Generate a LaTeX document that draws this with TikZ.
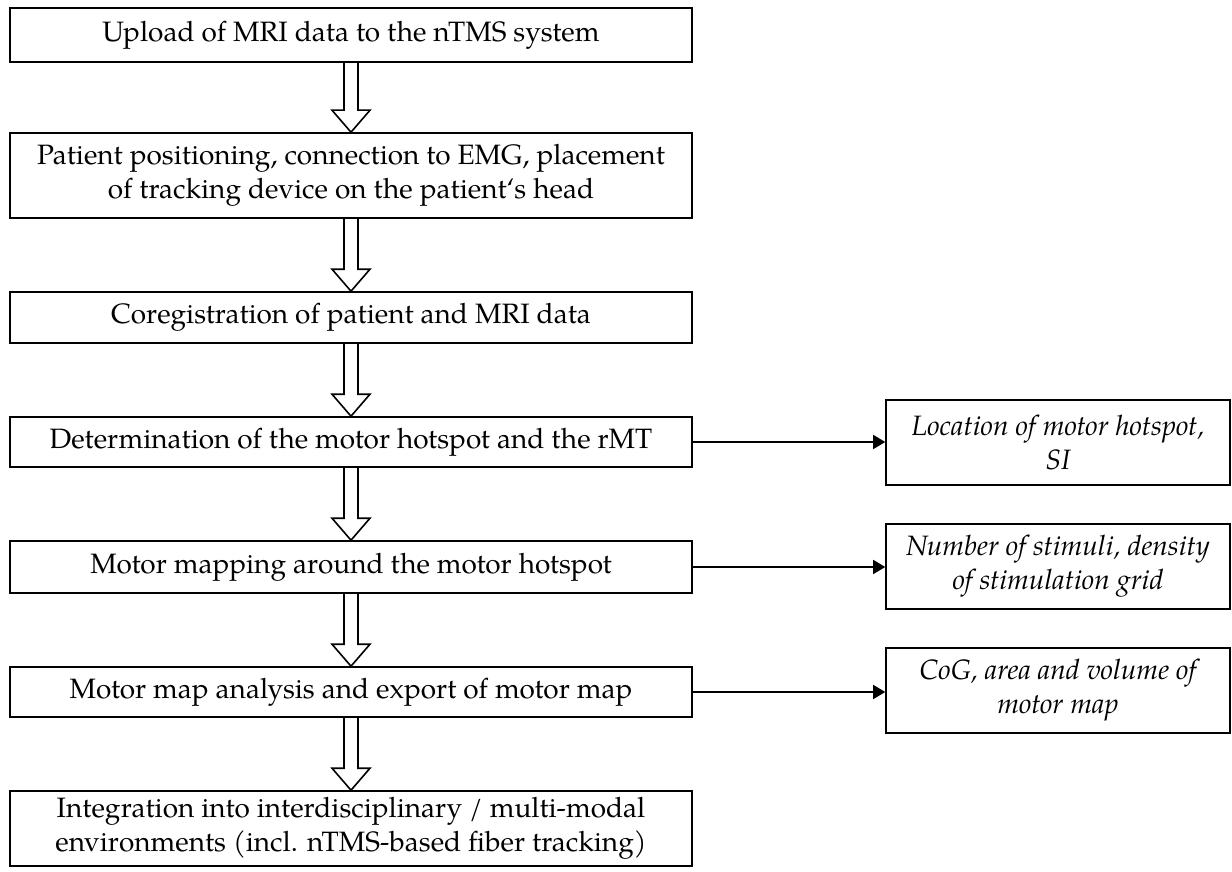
\documentclass[tikz,border=0pt]{standalone}
\usepackage{fontspec}
\setmainfont{texgyrepagella}[Extension=.otf, UprightFont=*-regular, ItalicFont=*-italic, BoldFont=*-bold, BoldItalicFont=*-bolditalic]
\usetikzlibrary{arrows.meta,calc}
\newcommand\hollowarrow[2]{%
  \draw[hollow] ($(#1.south)+(-7,0)$) -- ($(#2.north)+(-7,-22)$) -- ($(#2.north)+(-19,-22)$)
    -- (#2.north) -- ($(#2.north)+(19,-22)$) -- ($(#2.north)+(7,-22)$) -- ($(#1.south)+(7,0)$);}
\begin{document}
\begin{tikzpicture}[x=0.5pt,y=-0.5pt,
  box/.style={draw, line width=0.8pt, inner sep=0pt, align=center,
    font=\fontsize{14}{17}\selectfont, minimum width=341pt},
  rbox/.style={draw, line width=0.8pt, inner sep=0pt, align=center,
    font=\fontsize{14}{17}\selectfont\itshape, minimum width=172pt, minimum height=42.5pt},
  hollow/.style={line width=0.8pt, line join=miter},
  link/.style={line width=0.8pt, -{Triangle[length=6pt,width=7pt]}}]
\fill[white] (0,0) rectangle (1232,872);
\useasboundingbox (0,0) rectangle (1232,872);

\node[box, minimum height=27pt] (b1) at (351,35) {Upload of MRI data to the nTMS system};
\node[box, minimum height=42.5pt] (b2) at (351,175.5) {Patient positioning, connection to EMG, placement\\of tracking device on the patient‘s head};
\node[box, minimum height=25.5pt] (b3) at (351,317.5) {Coregistration of patient and MRI data};
\node[box, minimum height=25pt] (b4) at (351,442) {Determination of the motor hotspot and the rMT};
\node[box, minimum height=26pt] (b5) at (351,567) {Motor mapping around the motor hotspot};
\node[box, minimum height=25pt] (b6) at (351,692) {Motor map analysis and export of motor map};
\node[box, minimum height=37.5pt] (b7) at (351,828.5) {Integration into interdisciplinary / multi-modal\\environments (incl. nTMS-based fiber tracking)};

\node[rbox] (r1) at (1058,442.5) {Location of motor hotspot,\\SI};
\node[rbox] (r2) at (1058,566.5) {Number of stimuli, density\\of stimulation grid};
\node[rbox] (r3) at (1058,690.5) {CoG, area and volume of\\motor map};

\hollowarrow{b1}{b2}
\hollowarrow{b2}{b3}
\hollowarrow{b3}{b4}
\hollowarrow{b4}{b5}
\hollowarrow{b5}{b6}
\hollowarrow{b6}{b7}

\draw[link] (b4.east) -- (b4.east -| r1.west);
\draw[link] (b5.east) -- (b5.east -| r2.west);
\draw[link] (b6.east) -- (b6.east -| r3.west);
\end{tikzpicture}
\end{document}
